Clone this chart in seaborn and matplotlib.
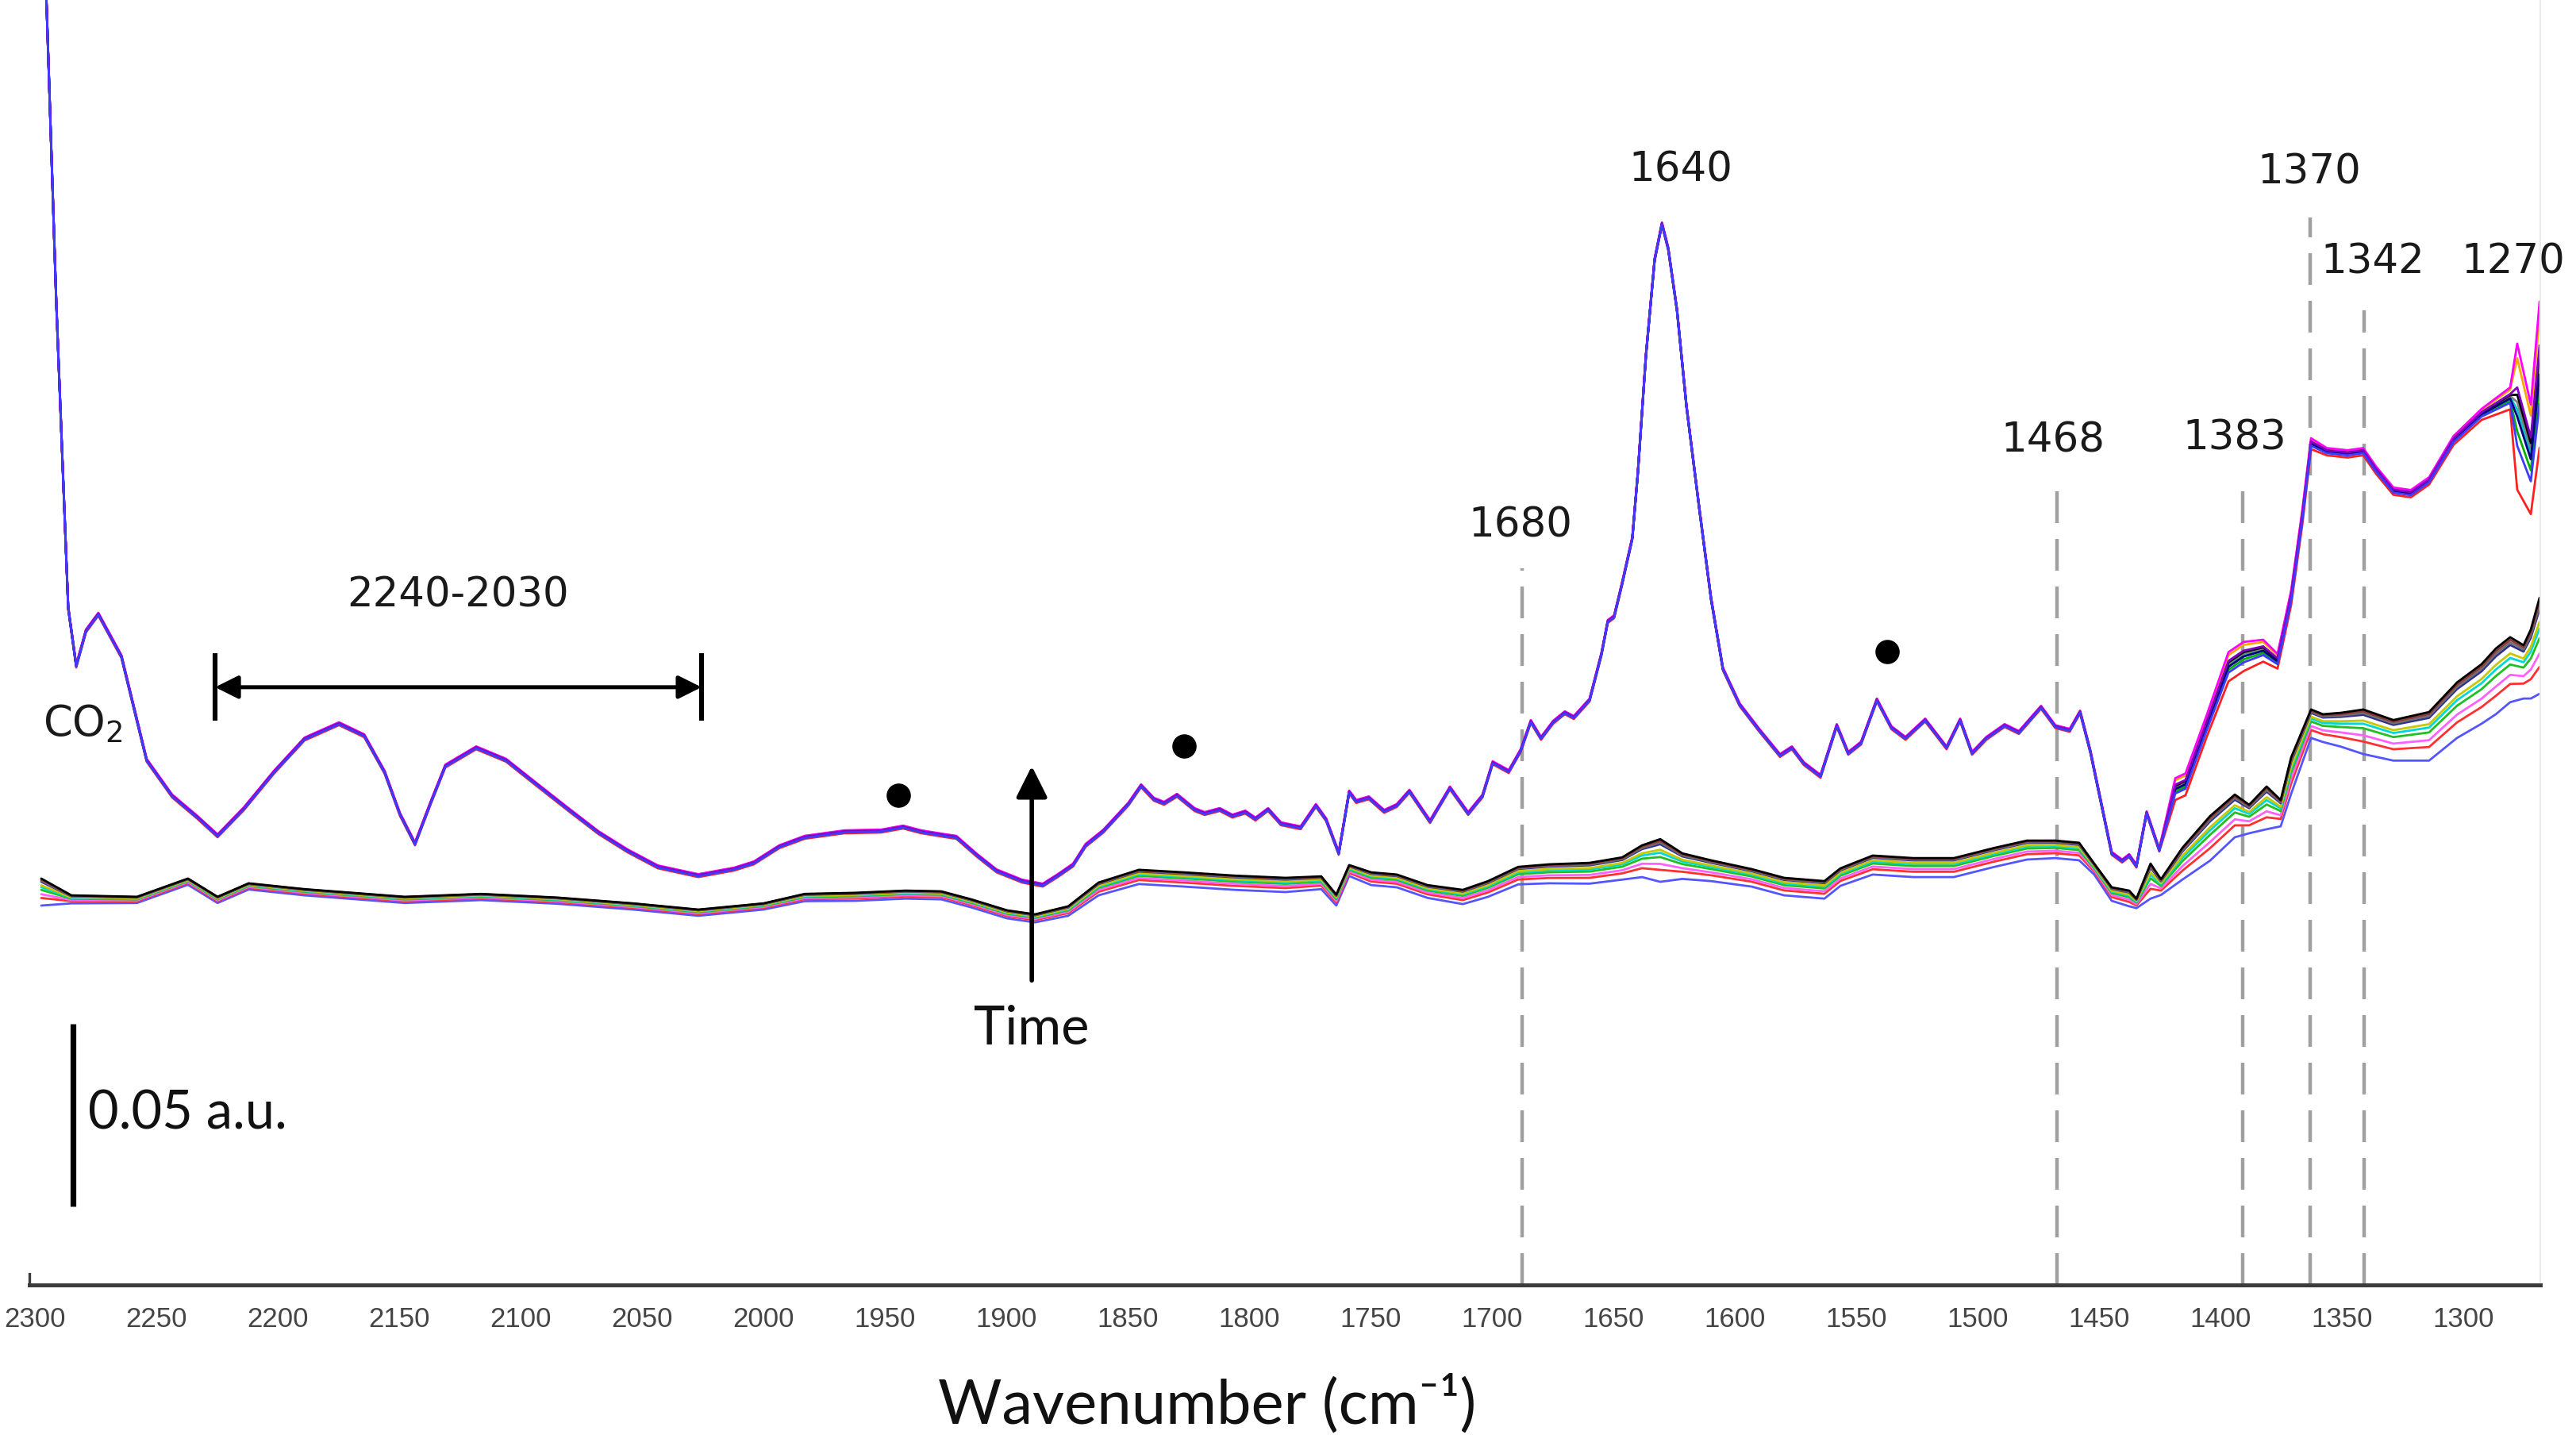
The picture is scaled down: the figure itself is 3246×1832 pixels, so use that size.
import numpy as np
import pandas as pd
import matplotlib
matplotlib.use("Agg")
import matplotlib.pyplot as plt
import seaborn as sns

# ---------------- data ----------------
# Upper group of spectra (nearly superimposed): wavenumber / absorbance (a.u.)
U_W = [2297.4, 2291.2, 2286.3, 2283.0, 2279.0, 2273.9, 2264.4, 2254.0, 2243.5, 2233.0,
       2224.8, 2214.0, 2201.6, 2189.0, 2174.8, 2164.4, 2156.0, 2149.7, 2143.5, 2137.0,
       2131.0, 2118.3, 2106.0, 2093.5, 2080.7, 2068.0, 2056.0, 2043.5, 2026.8, 2012.0,
       2003.9, 1993.5, 1983.0, 1966.6, 1951.6, 1942.5, 1935.0, 1924.8, 1920.6, 1912.0,
       1904.0, 1893.5, 1885.0, 1878.8, 1872.5, 1867.3, 1860.0, 1849.7, 1844.5, 1839.2,
       1835.0, 1829.7, 1822.5, 1818.3, 1812.1, 1806.9, 1801.6, 1797.4, 1792.2, 1786.9,
       1778.8, 1772.5, 1768.3, 1763.1, 1758.8, 1755.9, 1750.7, 1744.4, 1739.2, 1734.0,
       1725.5, 1717.3, 1709.8, 1703.9, 1699.7, 1693.1, 1688.2, 1684.0, 1679.8, 1674.8,
       1670.0, 1666.3, 1659.8, 1654.9, 1652.3, 1649.7, 1646.4, 1642.2, 1639.9, 1636.6,
       1633.0, 1630.0, 1627.4, 1623.8, 1619.9, 1614.7, 1609.8, 1604.9, 1598.0, 1589.9,
       1581.4, 1576.5, 1571.6, 1564.7, 1558.0, 1553.3, 1548.0, 1541.5, 1535.5, 1529.7,
       1521.6, 1512.8, 1507.2, 1502.3, 1496.4, 1488.9, 1483.0, 1473.9, 1468.0, 1462.1,
       1457.8, 1453.6, 1449.0, 1444.8, 1440.5, 1437.6, 1434.6, 1430.4, 1425.2, 1418.6,
       1414.4, 1405.6, 1396.7, 1390.5, 1382.4, 1376.5, 1370.9, 1366.3, 1362.7, 1356.2,
       1347.7, 1341.2, 1336.0, 1328.8, 1321.6, 1314.1, 1304.0, 1292.5, 1280.7, 1277.8,
       1272.2, 1268.6]
U_V = [0.2900, 0.1633, 0.0800, 0.0641, 0.0737, 0.0783, 0.0667, 0.0383, 0.0285, 0.0226,
       0.0176, 0.0250, 0.0350, 0.0441, 0.0483, 0.0450, 0.0350, 0.0235, 0.0154, 0.0267,
       0.0367, 0.0417, 0.0383, 0.0317, 0.0250, 0.0185, 0.0135, 0.0091, 0.0067, 0.0085,
       0.0102, 0.0146, 0.0172, 0.0187, 0.0189, 0.0200, 0.0187, 0.0176, 0.0172, 0.0122,
       0.0080, 0.0052, 0.0041, 0.0067, 0.0096, 0.0150, 0.0189, 0.0263, 0.0313, 0.0276,
       0.0265, 0.0287, 0.0248, 0.0237, 0.0248, 0.0230, 0.0241, 0.0222, 0.0248, 0.0209,
       0.0198, 0.0259, 0.0220, 0.0128, 0.0296, 0.0270, 0.0280, 0.0243, 0.0259, 0.0298,
       0.0215, 0.0307, 0.0237, 0.0285, 0.0376, 0.0352, 0.0409, 0.0489, 0.0443, 0.0487,
       0.0513, 0.0500, 0.0548, 0.0674, 0.0763, 0.0776, 0.0867, 0.0991, 0.1172, 0.1491,
       0.1754, 0.1852, 0.1783, 0.1615, 0.1352, 0.1076, 0.0826, 0.0633, 0.0535, 0.0465,
       0.0396, 0.0417, 0.0374, 0.0339, 0.0478, 0.0402, 0.0430, 0.0548, 0.0472, 0.0443,
       0.0493, 0.0417, 0.0493, 0.0402, 0.0443, 0.0478, 0.0459, 0.0528, 0.0475, 0.0465,
       0.0515, 0.0407, 0.0261, 0.0128, 0.0107, 0.0122, 0.0093, 0.0239, 0.0137, 0.0304,
       0.0317, 0.0478, 0.0639, 0.0667, 0.0683, 0.0654, 0.0828, 0.1048, 0.1250, 0.1228,
       0.1222, 0.1228, 0.1178, 0.1120, 0.1113, 0.1148, 0.1259, 0.1330, 0.1374, 0.1324,
       0.1207, 0.1439]
# half-spread of the upper group (a.u.); default elsewhere
U_DEV_DEFAULT = 0.0004
U_DEV = {1418.6: 0.003, 1414.4: 0.003, 1405.6: 0.003, 1396.7: 0.004, 1390.5: 0.004,
         1382.4: 0.003, 1376.5: 0.002, 1370.9: 0.002, 1366.3: 0.002, 1362.7: 0.0015,
         1356.2: 0.001, 1347.7: 0.001, 1341.2: 0.001, 1336.0: 0.001, 1328.8: 0.001,
         1321.6: 0.001, 1314.1: 0.001, 1304.0: 0.0012, 1292.5: 0.0015, 1280.7: 0.003,
         1277.8: 0.020, 1272.2: 0.015, 1268.6: 0.020}
U_COLORS = ["#ffa500", "#00b000", "#00c8c8", "#808080", "#ff2020",
            "#000000", "#000080", "#ff00ff", "#8000c0", "#3c3cff"]
U_FRAC = [0.8, -0.2, 0.1, 0.2, -1.0, 0.3, 0.0, 1.0, 0.4, -0.4]

# Lower group of spectra: top trace (a.u.) and distance top -> bottom trace
L_W = [2297.4, 2285.0, 2258.0, 2237.0, 2224.8, 2212.0, 2189.0, 2147.7, 2116.3, 2085.0,
       2053.6, 2026.8, 2000.0, 1983.0, 1962.0, 1941.5, 1926.8, 1914.4, 1899.7, 1888.2,
       1874.5, 1862.0, 1845.4, 1826.8, 1805.9, 1785.0, 1770.3, 1764.1, 1758.8, 1749.7,
       1739.2, 1726.5, 1712.0, 1701.6, 1689.2, 1676.5, 1659.8, 1646.4, 1638.2, 1630.7,
       1621.6, 1609.8, 1593.1, 1579.7, 1563.1, 1556.5, 1543.2, 1526.5, 1509.8, 1493.1,
       1479.7, 1468.0, 1458.2, 1452.0, 1444.8, 1437.6, 1434.6, 1428.8, 1424.5, 1415.7,
       1404.3, 1394.1, 1388.2, 1381.0, 1375.2, 1370.9, 1362.7, 1357.8, 1350.3, 1341.2,
       1328.8, 1314.1, 1302.6, 1292.5, 1286.6, 1280.7, 1275.2, 1272.2, 1268.6]
L_TOP = [0.0059, 0.0013, 0.0009, 0.0059, 0.0009, 0.0046, 0.0030, 0.0009, 0.0017, 0.0007,
         -0.0009, -0.0026, -0.0009, 0.0017, 0.0020, 0.0026, 0.0024, 0.0002, -0.0028, -0.0039,
         -0.0017, 0.0048, 0.0083, 0.0076, 0.0067, 0.0061, 0.0065, 0.0015, 0.0096, 0.0076,
         0.0070, 0.0041, 0.0028, 0.0052, 0.0091, 0.0098, 0.0102, 0.0117, 0.0150, 0.0167,
         0.0128, 0.0109, 0.0085, 0.0061, 0.0052, 0.0087, 0.0122, 0.0115, 0.0115, 0.0143,
         0.0163, 0.0163, 0.0157, 0.0100, 0.0035, 0.0026, 0.0004, 0.0100, 0.0057, 0.0143,
         0.0230, 0.0289, 0.0261, 0.0311, 0.0274, 0.0391, 0.0522, 0.0509, 0.0513, 0.0522,
         0.0493, 0.0515, 0.0596, 0.0646, 0.0689, 0.0720, 0.0698, 0.0741, 0.0828]
L_SPREAD = [0.0074, 0.0022, 0.0017, 0.0017, 0.0017, 0.0017, 0.0017, 0.0017, 0.0017, 0.0017,
            0.0017, 0.0017, 0.0017, 0.0020, 0.0022, 0.0022, 0.0022, 0.0022, 0.0022, 0.0022,
            0.0026, 0.0035, 0.0039, 0.0039, 0.0039, 0.0039, 0.0035, 0.0030, 0.0030, 0.0035,
            0.0035, 0.0035, 0.0039, 0.0043, 0.0048, 0.0052, 0.0057, 0.0061, 0.0087, 0.0117,
            0.0070, 0.0057, 0.0048, 0.0048, 0.0048, 0.0048, 0.0052, 0.0052, 0.0052, 0.0052,
            0.0052, 0.0048, 0.0048, 0.0030, 0.0037, 0.0043, 0.0026, 0.0096, 0.0043, 0.0087,
            0.0122, 0.0117, 0.0078, 0.0117, 0.0072, 0.0100, 0.0078, 0.0076, 0.0093, 0.0122,
            0.0111, 0.0133, 0.0152, 0.0163, 0.0180, 0.0178, 0.0146, 0.0189, 0.0263]
L_COLORS = ["#5555ff", "#ff3030", "#ff60ff", "#20c020", "#00d8d8",
            "#c8c800", "#303090", "#707070", "#8b3a3a", "#000000"]
L_FRAC = [1.0, 0.72, 0.58, 0.42, 0.32, 0.25, 0.12, 0.08, 0.04, 0.0]

# Annotations
TICKS = list(range(2300, 1299, -50))
DASH_W = [1687.6, 1467.3, 1390.7, 1363.1, 1341.0]
DASH_TOP = [0.0909, 0.1148, 0.1157, 0.1870, 0.1615]
PEAK_LABELS = ["1640", "1680", "1468", "1383", "1370", "1342", "1270"]
PEAK_LABEL_W = [1622.2, 1688.2, 1469.0, 1394.1, 1363.4, 1337.3, 1279.4]
PEAK_LABEL_V = [0.1998, 0.1026, 0.1257, 0.1265, 0.1993, 0.1746, 0.1746]
DOT_W = [1944.4, 1826.8, 1537.3]
DOT_V = [0.0287, 0.0422, 0.0680]
RANGE_W = [2225.8, 2025.5]          # 2240-2030 bracket
RANGE_V = 0.0583
TIME_W = 1889.5
TIME_V = [-0.0220, 0.0367]
SCALE_W = 2284.3
SCALE_V = [-0.0839, -0.0339]        # 0.05 a.u.

XLIM = (2302.3, 1268.3)
YLIM = (-0.1054, 0.2465)

# ---------------- build long-form table ----------------
rows = []
u_dev = np.array([U_DEV.get(w, U_DEV_DEFAULT) for w in U_W])
for i, (c, f) in enumerate(zip(U_COLORS, U_FRAC)):
    vals = np.array(U_V) + f * u_dev
    rows.append(pd.DataFrame({"w": U_W, "v": vals, "trace": f"U{i}"}))
for i, (c, f) in enumerate(zip(L_COLORS, L_FRAC)):
    vals = np.array(L_TOP) - f * np.array(L_SPREAD)
    rows.append(pd.DataFrame({"w": L_W, "v": vals, "trace": f"L{i}"}))
df = pd.concat(rows, ignore_index=True)
palette = {f"U{i}": c for i, c in enumerate(U_COLORS)}
palette.update({f"L{i}": c for i, c in enumerate(L_COLORS)})
order = [f"L{i}" for i in range(len(L_COLORS))] + [f"U{i}" for i in range(len(U_COLORS))]

# ---------------- figure ----------------
sns.set_style("white")
plt.rcParams["font.family"] = ["DejaVu Sans"]

W, H, DPI = 3246, 1832, 200
fig = plt.figure(figsize=(W / DPI, H / DPI), dpi=DPI)
ax = fig.add_axes([37 / W, 213 / H, (3201 - 37) / W, 1619 / H])

sns.lineplot(data=df, x="w", y="v", hue="trace", hue_order=order, palette=palette,
             estimator=None, sort=False, legend=False, linewidth=1.0, ax=ax)

ax.set_xlim(*XLIM)
ax.set_ylim(*YLIM)

# axis styling
ax.spines["top"].set_visible(False)
ax.spines["right"].set_color("#ececec")
ax.spines["right"].set_linewidth(0.8)
ax.spines["bottom"].set_color("#3c3c3c")
ax.spines["bottom"].set_linewidth(1.8)
ax.spines["left"].set_color("#3c3c3c")
ax.spines["left"].set_linewidth(1.2)
ax.spines["left"].set_bounds(YLIM[0], YLIM[0] + 0.003)
ax.set_yticks([])
ax.set_xticks(TICKS)
ax.set_xticklabels([str(t) for t in TICKS])
ax.tick_params(axis="x", direction="out", length=3.6, width=0.8, color="#555555",
               pad=6, labelsize=12.5, labelcolor="#454545")
for lab in ax.get_xticklabels():
    lab.set_family(["Liberation Sans", "DejaVu Sans"])
ax.set_ylabel("")
ax.set_xlabel("Wavenumber (cm⁻¹)", fontsize=28, family=["Lato", "DejaVu Sans"],
              color="#111111")
ax.xaxis.set_label_coords(0.469, -0.0933)
ax.xaxis.label.set_va("center")

# dashed marker lines
ax.vlines(DASH_W, YLIM[0], DASH_TOP, colors="#a0a0a0", linewidth=1.6,
          linestyles=[(0, (9, 4.5))], zorder=1)

# peak labels
for t, w, v in zip(PEAK_LABELS, PEAK_LABEL_W, PEAK_LABEL_V):
    ax.text(w, v, t, ha="center", va="center", fontsize=18.5, color="#1a1a1a")

# 2240-2030 bracket
ax.annotate("", xy=(RANGE_W[1], RANGE_V), xytext=(RANGE_W[0], RANGE_V),
            arrowprops=dict(arrowstyle="<|-|>", color="black", lw=1.8,
                            mutation_scale=22, shrinkA=0, shrinkB=0))
ax.vlines(RANGE_W, RANGE_V - 0.0092, RANGE_V + 0.0093, colors="black", linewidth=2.2)
ax.text(sum(RANGE_W) / 2, 0.0833, "2240-2030", ha="center", va="center",
        fontsize=18.5, color="#1a1a1a")
ax.text(2296.7, 0.0450, "CO$_2$", ha="left", va="baseline", fontsize=19,
        color="#1a1a1a")

# dots
ax.plot(DOT_W, DOT_V, "o", color="black", markersize=10, linestyle="none")

# time arrow
ax.annotate("", xy=(TIME_W, TIME_V[1]), xytext=(TIME_W, TIME_V[0]),
            arrowprops=dict(arrowstyle="-|>", color="black", lw=2.0,
                            mutation_scale=30, shrinkA=0, shrinkB=0))
ax.text(TIME_W, -0.0354, "Time", ha="center", va="center", fontsize=24,
        family=["Lato", "DejaVu Sans"], color="#111111")

# scale bar
ax.plot([SCALE_W, SCALE_W], SCALE_V, color="black", linewidth=2.6,
        solid_capstyle="butt")
ax.text(2278.1, -0.0585, "0.05 a.u.", ha="left", va="center", fontsize=24,
        family=["Lato", "DejaVu Sans"], color="#111111")

fig.savefig("out.png", dpi=DPI)
